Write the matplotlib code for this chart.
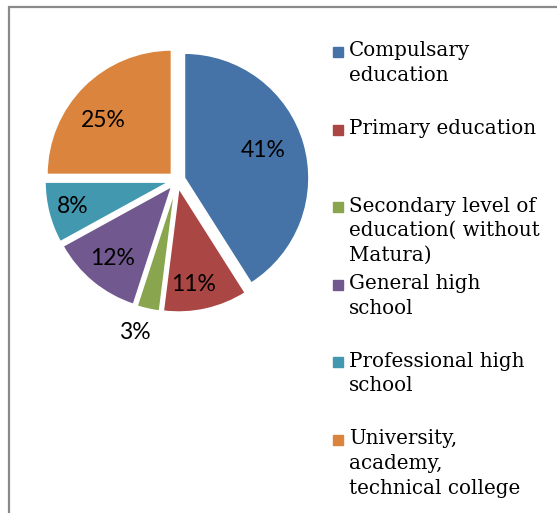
import matplotlib.pyplot as plt
import matplotlib.patches as mpatches
import numpy as np

# data
categories = ["Compulsary\neducation",
              "Primary education",
              "Secondary level of\neducation( without\nMatura)",
              "General high\nschool",
              "Professional high\nschool",
              "University,\nacademy,\ntechnical college"]
shares = [41, 11, 3, 12, 8, 25]
colors = ["#4572A7", "#AA4643", "#89A54E", "#71588F", "#4198AF", "#DB843D"]

# where each percentage sits: fraction of radius and turn (deg) off the mid-angle
label_dist = [0.67, 0.79, 1.21, 0.75, 0.80, 0.70]
label_turn = [3, -4, -3, 0, 0, 6.5]

W, H = 557, 513
fig = plt.figure(figsize=(W / 100, H / 100), dpi=100)

# pie axes: centre at ~(177,180) px, radius ~125 px
L = 1.3
R = 125
S = 2 * L * R
cx, cy = 177, 180
ax = fig.add_axes([(cx - S / 2) / W, (H - cy - S / 2) / H, S / W, S / H])

ex = 0.06
wedges, _ = ax.pie(shares, colors=colors, startangle=90, counterclock=False,
                   explode=[ex] * len(shares),
                   wedgeprops=dict(edgecolor="white", linewidth=1.5))
ax.set_xlim(-L, L)
ax.set_ylim(-L, L)
ax.set_aspect("equal")
ax.axis("off")

# percentage labels
for w, v, d, t in zip(wedges, shares, label_dist, label_turn):
    mid = np.deg2rad((w.theta1 + w.theta2) / 2)
    ang = mid + np.deg2rad(t)
    x = ex * np.cos(mid) + d * np.cos(ang)
    y = ex * np.sin(mid) + d * np.sin(ang)
    ax.text(x, y, f"{v}%", ha="center", va="center", fontsize=16.5,
            family="Lato", color="black")

# legend drawn by hand to match the spaced layout
leg_x = 333 / W
top = 52
step = 77.6
for i, (lab, c) in enumerate(zip(categories, colors)):
    yc = top + i * step
    fig.add_artist(mpatches.Rectangle((leg_x, 1 - (yc + 5) / H), 10 / W, 10 / H,
                                      transform=fig.transFigure, color=c))
    fig.text(349 / W, 1 - (yc - 10.5) / H, lab, ha="left", va="top",
             fontsize=14.3, family="DejaVu Serif", linespacing=1.37)

# outer frame (only left and top show in the crop)
fig.add_artist(mpatches.Rectangle((8.5 / W, -0.1), 1.2, 1 - 6.5 / H + 0.1,
                                  transform=fig.transFigure, fill=False,
                                  ec="#8a8a8a", lw=1.6))

fig.savefig("out.png", dpi=100)
